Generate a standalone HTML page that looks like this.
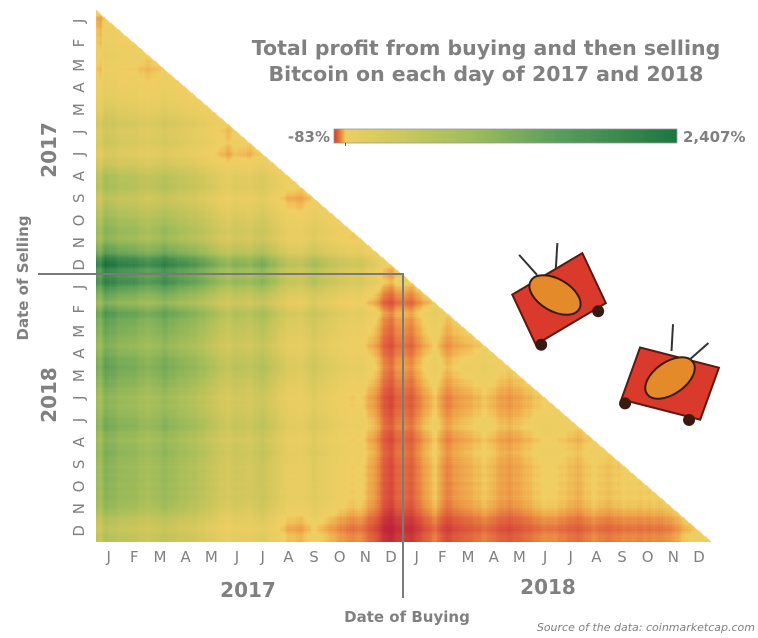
<!DOCTYPE html>
<html><head><meta charset="utf-8"><style>
html,body{margin:0;padding:0;background:#fff;width:758px;height:638px;overflow:hidden}
#c{position:absolute;left:96px;top:10px}
svg{position:absolute;left:0;top:0}
text{font-family:"DejaVu Sans","Liberation Sans",sans-serif;fill:#808080}
</style></head><body>
<canvas id="c" width="616" height="532"></canvas>
<svg width="758" height="638" viewBox="0 0 758 638">
<defs>
<linearGradient id="cb" x1="0" x2="1" y1="0" y2="0">
<stop offset="0" stop-color="#d23a32"/><stop offset="0.02" stop-color="#e8873a"/><stop offset="0.034" stop-color="#eccf60"/>
<stop offset="0.18" stop-color="#cfc95e"/><stop offset="0.4" stop-color="#9fbd5b"/><stop offset="0.65" stop-color="#5a9e5c"/><stop offset="1" stop-color="#1d7640"/>
</linearGradient>
</defs>
<text x="486" y="55" text-anchor="middle" font-size="20.5" font-weight="bold">Total profit from buying and then selling</text>
<text x="486" y="81" text-anchor="middle" font-size="20.5" font-weight="bold">Bitcoin on each day of 2017 and 2018</text>
<rect x="334" y="129" width="343" height="14" fill="url(#cb)" stroke="#999" stroke-width="0.8"/>
<line x1="345.5" y1="143" x2="345.5" y2="146" stroke="#555" stroke-width="1"/>
<text x="330" y="142" text-anchor="end" font-size="15" font-weight="bold">-83%</text>
<text x="683" y="142" font-size="15" font-weight="bold">2,407%</text>
<g id="ylab" font-size="15"></g>
<g id="xlab" font-size="15"></g>
<text x="248" y="597" text-anchor="middle" font-size="20" font-weight="bold">2017</text>
<text x="548" y="594" text-anchor="middle" font-size="20" font-weight="bold">2018</text>
<text transform="translate(56,150) rotate(-90)" text-anchor="middle" font-size="20" font-weight="bold">2017</text>
<text transform="translate(56,395) rotate(-90)" text-anchor="middle" font-size="20" font-weight="bold">2018</text>
<text transform="translate(28,278) rotate(-90)" text-anchor="middle" font-size="15" font-weight="bold">Date of Selling</text>
<text x="407" y="622" text-anchor="middle" font-size="15" font-weight="bold">Date of Buying</text>
<text x="755" y="631" text-anchor="end" font-size="11" font-style="italic">Source of the data: coinmarketcap.com</text>
<line x1="38" y1="274" x2="404" y2="274" stroke="#7a7a7a" stroke-width="2"/>
<line x1="403" y1="273" x2="403" y2="598" stroke="#7a7a7a" stroke-width="2"/>
<g transform="translate(555,295) rotate(-20)">
<polygon points="-40,-15 40,-30 45,25 -35,40" fill="#d93a2c" stroke="#5a1a10" stroke-width="2"/>
<ellipse cx="0" cy="0" rx="16" ry="28" fill="#e58a2a" stroke="#3a1a0a" stroke-width="2" transform="rotate(-40)"/>
<circle cx="-30" cy="42" r="6" fill="#3a1a10"/><circle cx="35" cy="30" r="6" fill="#3a1a10"/>
<line x1="-10" y1="-25" x2="-20" y2="-50" stroke="#333" stroke-width="2"/><line x1="10" y1="-25" x2="20" y2="-48" stroke="#333" stroke-width="2"/>
</g>
<g transform="translate(670,378) rotate(25)">
<polygon points="-40,-15 40,-30 45,25 -35,40" fill="#d93a2c" stroke="#5a1a10" stroke-width="2"/>
<ellipse cx="0" cy="0" rx="16" ry="28" fill="#e58a2a" stroke="#3a1a0a" stroke-width="2" transform="rotate(30)"/>
<circle cx="-30" cy="42" r="6" fill="#3a1a10"/><circle cx="35" cy="30" r="6" fill="#3a1a10"/>
<line x1="-10" y1="-25" x2="-20" y2="-50" stroke="#333" stroke-width="2"/><line x1="10" y1="-25" x2="20" y2="-48" stroke="#333" stroke-width="2"/>
</g>
</svg>
<script>
var K=[[0,997],[4,1150],[10,780],[30,970],[45,1000],[59,1190],[70,1100],[80,960],[90,1080],[120,1420],[140,2000],[155,2700],[165,2200],[181,2500],[196,1930],[212,2870],[226,4300],[243,4700],[257,3300],[273,4400],[290,5700],[304,6700],[312,5900],[320,7800],[334,10900],[340,16500],[350,19500],[356,14000],[365,14000],[373,16000],[381,11500],[401,6900],[414,11500],[430,9200],[444,8300],[460,6900],[480,9200],[490,9700],[515,7500],[530,6300],[545,6500],[570,8200],[588,6400],[605,7400],[625,6500],[640,6600],[670,6400],[684,5600],[695,4300],[713,3200],[720,4000],[729,3700]];
var LP=[];
for(var d=0;d<730;d++){var i=0;while(i<K.length-2&&K[i+1][0]<=d)i++;var a=K[i],b=K[i+1];var t=(d-a[0])/(b[0]-a[0]);if(t>1)t=1;
LP.push(Math.log(a[1])*(1-t)+Math.log(b[1])*t+0.025*Math.sin(d*1.7)+0.02*Math.sin(d*0.53));}
function lerp(st,t){for(var i=0;i<st.length-1;i++){if(t<=st[i+1][0]){var u=(t-st[i][0])/(st[i+1][0]-st[i][0]);return [0,1,2].map(function(k){return st[i][1][k]*(1-u)+st[i+1][1][k]*u});}}return st[st.length-1][1];}
var NEG=[[0,[240,207,99]],[0.15,[240,192,88]],[0.4,[238,155,70]],[0.75,[222,85,60]],[1,[190,35,55]]];
var POS=[[0,[240,207,99]],[0.08,[208,199,92]],[0.2,[165,190,90]],[0.38,[115,170,88]],[0.6,[70,145,84]],[1,[25,112,58]]];
var c=document.getElementById('c'),ctx=c.getContext('2d'),W=616,H=532,img=ctx.createImageData(W,H),D=img.data;
for(var y=0;y<H;y++){for(var x=0;x<W;x++){if(y/H<x/W)continue;var bd=Math.min(729,Math.floor(x/W*730)),sd=Math.min(729,Math.floor(y/H*730));
var p=Math.exp(LP[sd]-LP[bd])-1,col;if(p<0)col=lerp(NEG,Math.min(1,-p/0.83));else col=lerp(POS,Math.min(1,p/24.07));
var o=(y*W+x)*4;D[o]=col[0];D[o+1]=col[1];D[o+2]=col[2];D[o+3]=255;}}
ctx.putImageData(img,0,0);
var M="JFMAMJJASOND",ns="http://www.w3.org/2000/svg",yl=document.getElementById('ylab'),xl=document.getElementById('xlab');
for(var j=0;j<24;j++){var mid=j*30.42+15;var L=M[j%12];
var t1=document.createElementNS(ns,'text');var yy=10+mid*532/730;t1.setAttribute('transform','translate(84,'+yy+') rotate(-90)');t1.setAttribute('text-anchor','middle');t1.textContent=L;yl.appendChild(t1);
var t2=document.createElementNS(ns,'text');var xx=96+mid*616/730;t2.setAttribute('x',xx);t2.setAttribute('y',562);t2.setAttribute('text-anchor','middle');t2.textContent=L;xl.appendChild(t2);}
</script>
</body></html>
